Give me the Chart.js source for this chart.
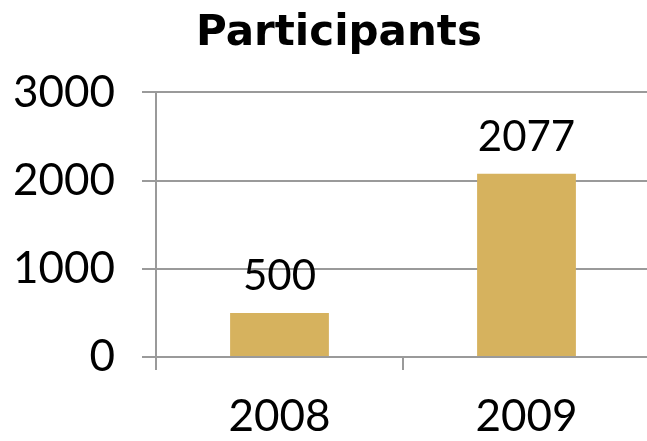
<!DOCTYPE html>
<html>
<head>
<meta charset="utf-8">
<script src="https://cdn.jsdelivr.net/npm/chart.js@4.4.1/dist/chart.umd.min.js"></script>
<style>
html,body{margin:0;padding:0;overflow:hidden;background:#fff;}
#wrap{width:650px;height:441px;position:relative;}
</style>
</head>
<body>
<div id="wrap"><canvas id="c"></canvas></div>
<script>
const categories = ['2008', '2009'];
const participants = [500, 2077];
const yTicks = [0, 1000, 2000, 3000];
const chartTitle = 'Participants';

const FONT = 'Lato, "Open Sans", "DejaVu Sans", sans-serif';
const TITLE_FONT = '"DejaVu Sans", Lato, sans-serif';
const GRID = '#9a9a9a';

const dataLabels = {
  id: 'dataLabels',
  afterDatasetsDraw(chart) {
    const ctx = chart.ctx;
    const meta = chart.getDatasetMeta(0);
    ctx.save();
    ctx.font = '42px ' + FONT;
    ctx.fillStyle = '#000';
    ctx.textAlign = 'center';
    ctx.textBaseline = 'alphabetic';
    meta.data.forEach((bar, i) => {
      ctx.fillText(String(chart.data.datasets[0].data[i]), bar.x, bar.y - 23);
    });
    ctx.restore();
  }
};

// Draws the title text slightly right of canvas centre, as in the reference
const titleText = {
  id: 'titleText',
  afterDraw(chart) {
    const ctx = chart.ctx;
    ctx.save();
    ctx.font = 'bold 42px ' + TITLE_FONT;
    ctx.fillStyle = '#000';
    ctx.textAlign = 'center';
    ctx.textBaseline = 'alphabetic';
    ctx.fillText(chartTitle, chart.width / 2 + 14, 45);
    ctx.restore();
  }
};

new Chart(document.getElementById('c'), {
  type: 'bar',
  data: {
    labels: categories,
    datasets: [{
      data: participants,
      backgroundColor: '#D6B25E',
      borderWidth: 0,
      barPercentage: 0.4,
      categoryPercentage: 1.0
    }]
  },
  options: {
    responsive: true,
    maintainAspectRatio: false,
    animation: false,
    layout: { padding: { left: 0, right: 0, top: 0, bottom: 0 } },
    plugins: {
      legend: { display: false },
      tooltip: { enabled: false },
      title: {
        display: true,
        text: chartTitle,
        color: 'rgba(0,0,0,0)',
        font: { family: TITLE_FONT, size: 42, weight: 'bold' },
        padding: { top: 2, bottom: 40 }
      }
    },
    scales: {
      x: {
        offset: true,
        grid: { offset: true, drawOnChartArea: false, drawTicks: true, tickLength: 13, color: GRID, lineWidth: 2 },
        border: { display: true, color: GRID, width: 2 },
        ticks: { color: '#000', font: { family: FONT, size: 44 }, padding: 20 },
        afterFit(scale) { scale.height = 84; }
      },
      y: {
        min: 0,
        max: 3000,
        afterBuildTicks(scale) { scale.ticks = yTicks.map(v => ({ value: v })); },
        grid: { color: GRID, lineWidth: 2, drawTicks: true, tickLength: 14 },
        border: { display: true, color: GRID, width: 2 },
        ticks: { color: '#000', font: { family: FONT, size: 44 }, padding: 27, callback: v => String(v) },
        afterFit(scale) { scale.width = 156; }
      }
    }
  },
  plugins: [dataLabels, titleText]
});
</script>
</body>
</html>
